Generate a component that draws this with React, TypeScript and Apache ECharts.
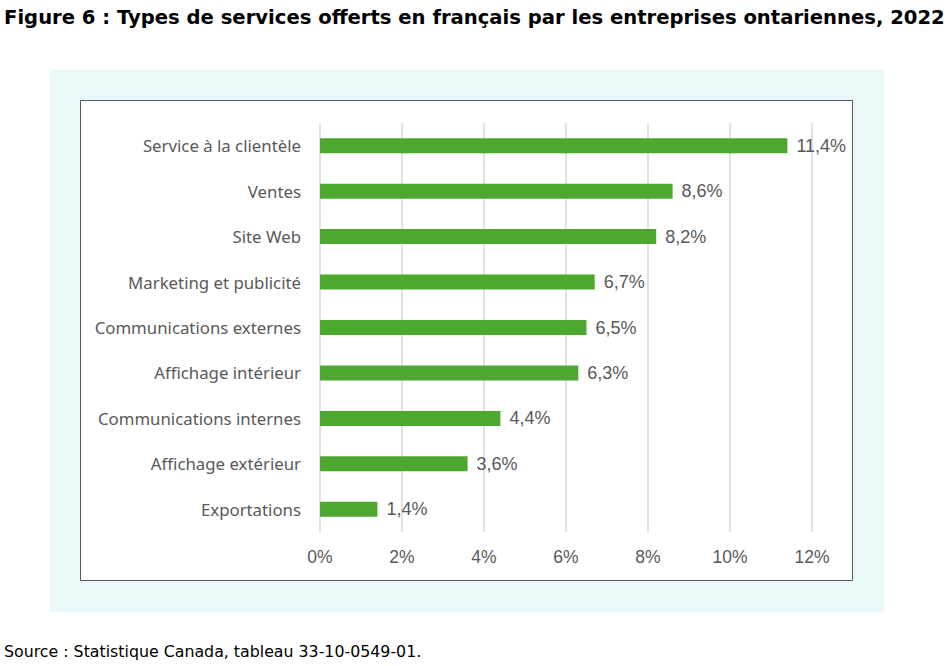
import React, { useEffect, useRef } from "react";
import * as echarts from "echarts";

const categories = [
  "Service à la clientèle",
  "Ventes",
  "Site Web",
  "Marketing et publicité",
  "Communications externes",
  "Affichage intérieur",
  "Communications internes",
  "Affichage extérieur",
  "Exportations",
];
const values = [11.4, 8.6, 8.2, 6.7, 6.5, 6.3, 4.4, 3.6, 1.4];
const titleText = "Figure 6 : Types de services offerts en français par les entreprises ontariennes, 2022";
const sourceText = "Source : Statistique Canada, tableau 33-10-0549-01.";

export default function App() {
  const ref = useRef<HTMLDivElement>(null);
  useEffect(() => {
    if (!ref.current) return;
    const chart = echarts.init(ref.current, undefined, { renderer: "svg" });
    chart.setOption({
      animation: false,
      backgroundColor: "#ffffff",
      graphic: [
        { type: "rect", z: -10, shape: { x: 50, y: 70, width: 834, height: 542 }, style: { fill: "#eaf8f9" } },
        { type: "rect", z: -9, shape: { x: 80.5, y: 100.5, width: 772, height: 480 }, style: { fill: "#ffffff", stroke: "#595959", lineWidth: 1 } },
        {
          type: "text", left: 4, top: 7,
          style: { text: titleText, font: "bold 19.6px 'DejaVu Sans', sans-serif", fill: "#000000" },
        },
        {
          type: "text", left: 4, top: 643,
          style: { text: sourceText, font: "15.8px 'DejaVu Sans', sans-serif", fill: "#000000" },
        },
      ],
      grid: { left: 320, right: 138, top: 123, height: 409, containLabel: false },
      xAxis: {
        type: "value", min: 0, max: 12, interval: 2,
        axisLine: { show: false }, axisTick: { show: false },
        splitLine: { show: true, lineStyle: { color: "#d9d9d9", width: 1.5 } },
        axisLabel: { formatter: "{value}%", color: "#595959", fontSize: 17.5, fontFamily: "Liberation Sans, Arial, sans-serif", margin: 16 },
      },
      yAxis: {
        type: "category", data: categories, inverse: true,
        axisLine: { show: false }, axisTick: { show: false },
        axisLabel: { color: "#595959", fontSize: 16.8, fontFamily: "'Noto Sans', sans-serif", margin: 19 },
      },
      series: [
        {
          type: "bar", data: values, barWidth: 15,
          itemStyle: { color: "#4ea72e" },
          label: {
            show: true, position: "right", distance: 9,
            color: "#595959", fontSize: 18, fontFamily: "Liberation Sans, Arial, sans-serif",
            formatter: (p: any) => p.value.toFixed(1).replace(".", ",") + "%",
          },
        },
      ],
    });
    return () => chart.dispose();
  }, []);
  return <div ref={ref} style={{ position: "fixed", left: 0, top: 0, width: 950, height: 666 }} />;
}
